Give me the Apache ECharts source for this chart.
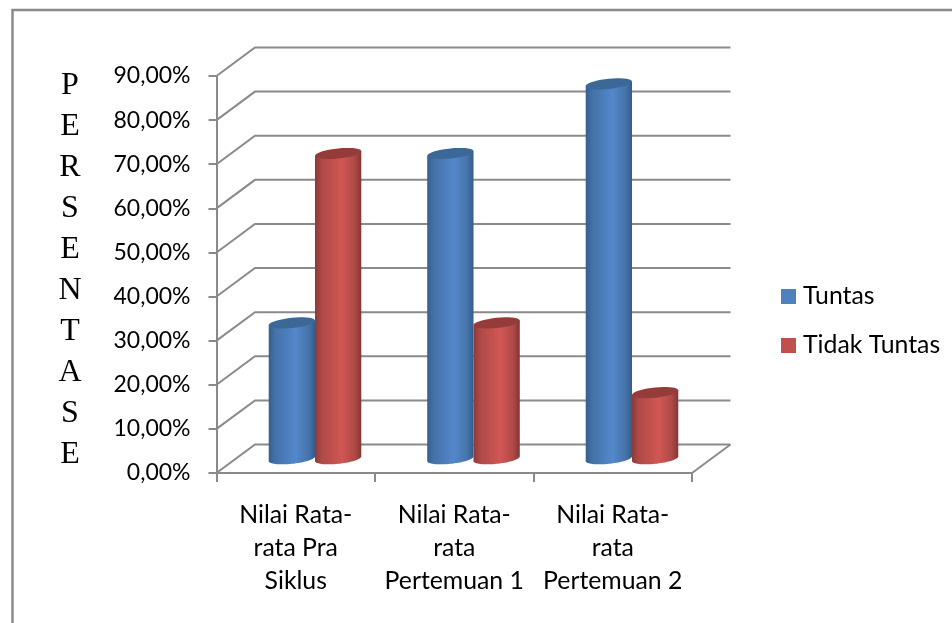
<!DOCTYPE html>
<html>
<head>
<meta charset="utf-8">
<style>html,body{margin:0;padding:0;background:#fff}#chart{width:952px;height:623px}</style>
<script src="https://cdn.jsdelivr.net/npm/echarts@6/dist/echarts.min.js"></script>
</head>
<body>
<div id="chart"></div>
<script>
// Persentase ketuntasan per tahap
const categories = ['Nilai Rata-\nrata Pra\nSiklus', 'Nilai Rata-\nrata\nPertemuan 1', 'Nilai Rata-\nrata\nPertemuan 2'];
const tuntas = [30.8, 69.2, 85];
const tidakTuntas = [69.2, 30.8, 15];
const gridValues = [0, 10, 20, 30, 40, 50, 60, 70, 80, 90];
const axisTitle = 'P\nE\nR\nS\nE\nN\nT\nA\nS\nE';

const DEPTH_X = 38.5, DEPTH_Y = 28.5;
const LINE = '#8a8a8a';
const SANS = 'Lato';
const BLUE = '#4f81bd', RED = '#c0504d';

// Back-wall gridline plus the diagonal running along the side wall
function renderWall(params, api) {
  const cs = params.coordSys;
  const v = api.value(0);
  const y = api.coord([0, v])[1];
  const x0 = cs.x, x1 = cs.x + DEPTH_X, x2 = cs.x + cs.width + DEPTH_X;
  const style = { stroke: LINE, lineWidth: 2, fill: null };
  const children = [{ type: 'polyline', shape: { points: [[x0, y], [x1, y - DEPTH_Y], [x2, y - DEPTH_Y]] }, style }];
  if (v === 0) {
    children.push({ type: 'line', shape: { x1: cs.x + cs.width, y1: y, x2: x2, y2: y - DEPTH_Y }, style });
  }
  return { type: 'group', children };
}

// Cylinder drawn at mid depth; side = -1 for the left one of the pair, +1 for the right
function cylinder(side, shades, capColor) {
  return function (params, api) {
    const cat = api.value(0);
    const top = api.coord([cat, api.value(1)]);
    const base = api.coord([cat, 0]);
    const rx = api.size([1, 0])[0] * 0.146;
    const cx = top[0] + DEPTH_X / 2 + side * rx;
    const topY = top[1] - DEPTH_Y / 2, baseY = base[1] - DEPTH_Y / 2;
    const ry = 5.1, shear = 0.1;
    const pt = (t, cy) => [cx + rx * Math.cos(t), cy + ry * Math.sin(t) - shear * rx * Math.cos(t)];
    const body = [pt(Math.PI, topY), pt(0, topY)];
    const cap = [];
    for (let i = 0; i <= 36; i++) {
      body.push(pt(Math.PI * i / 36, baseY));
      cap.push(pt(2 * Math.PI * i / 36, topY));
    }
    return {
      type: 'group',
      children: [
        {
          type: 'polygon',
          shape: { points: body },
          style: {
            fill: {
              type: 'linear', x: 0, y: 0, x2: 1, y2: 0,
              colorStops: shades.map((c, i) => ({ offset: [0, 0.14, 0.58, 0.86, 1][i], color: c }))
            }
          }
        },
        { type: 'polygon', shape: { points: cap }, style: { fill: capColor } }
      ]
    };
  };
}

const chart = echarts.init(document.getElementById('chart'));
chart.setOption({
  animation: false,
  backgroundColor: '#fff',
  title: {
    text: axisTitle,
    left: 65, top: 60, textAlign: 'center',
    textStyle: { fontFamily: 'Liberation Serif', fontSize: 32, fontWeight: 'normal', color: '#000', lineHeight: 41 }
  },
  legend: {
    orient: 'vertical',
    left: 781, top: 284,
    padding: 0,
    icon: 'rect',
    itemWidth: 15, itemHeight: 15, itemGap: 24,
    data: ['Tuntas', 'Tidak Tuntas'],
    textStyle: { fontFamily: SANS, fontSize: 24.8, color: '#000', padding: [0, 0, 0, 2] }
  },
  grid: { left: 216.5, top: 76, width: 475.5, height: 397 },
  xAxis: {
    type: 'category',
    data: categories,
    axisLine: { lineStyle: { color: LINE, width: 2 } },
    axisTick: { show: true, alignWithLabel: false, length: 9, lineStyle: { color: LINE, width: 2 } },
    axisLabel: { interval: 0, margin: 26, color: '#000', fontFamily: SANS, fontSize: 24.8, lineHeight: 33 }
  },
  yAxis: {
    type: 'value',
    min: 0, max: 90, interval: 10,
    splitLine: { show: false },
    axisLine: { show: true, lineStyle: { color: LINE, width: 2 } },
    axisTick: { show: true, length: 8, lineStyle: { color: LINE, width: 2 } },
    axisLabel: { margin: 26, padding: [6, 0, 0, 0], color: '#000', fontFamily: SANS, fontSize: 23, formatter: v => v.toFixed(2).replace('.', ',') + '%' }
  },
  graphic: [{
    type: 'polyline',
    silent: true,
    shape: { points: [[12.5, 623], [12.5, 10], [952, 10]] },
    style: { stroke: LINE, lineWidth: 2.5, fill: null }
  }],
  series: [
    { type: 'custom', name: 'wall', silent: true, clip: false, coordinateSystem: 'cartesian2d',
      encode: { y: 0 }, renderItem: renderWall, data: gridValues.map(v => [v]) },
    { type: 'custom', name: 'Tuntas', clip: false, encode: { x: 0, y: 1 }, itemStyle: { color: BLUE },
      renderItem: cylinder(-1, ['#345f90', '#4471a8', '#5388cb', '#4674aa', '#345c8a'], '#3b6896'),
      data: tuntas.map((v, i) => [i, v]) },
    { type: 'custom', name: 'Tidak Tuntas', clip: false, encode: { x: 0, y: 1 }, itemStyle: { color: RED },
      renderItem: cylinder(1, ['#8a3a38', '#ae4947', '#d15754', '#ae4947', '#843634'], '#953c3a'),
      data: tidakTuntas.map((v, i) => [i, v]) }
  ]
});
</script>
</body>
</html>
